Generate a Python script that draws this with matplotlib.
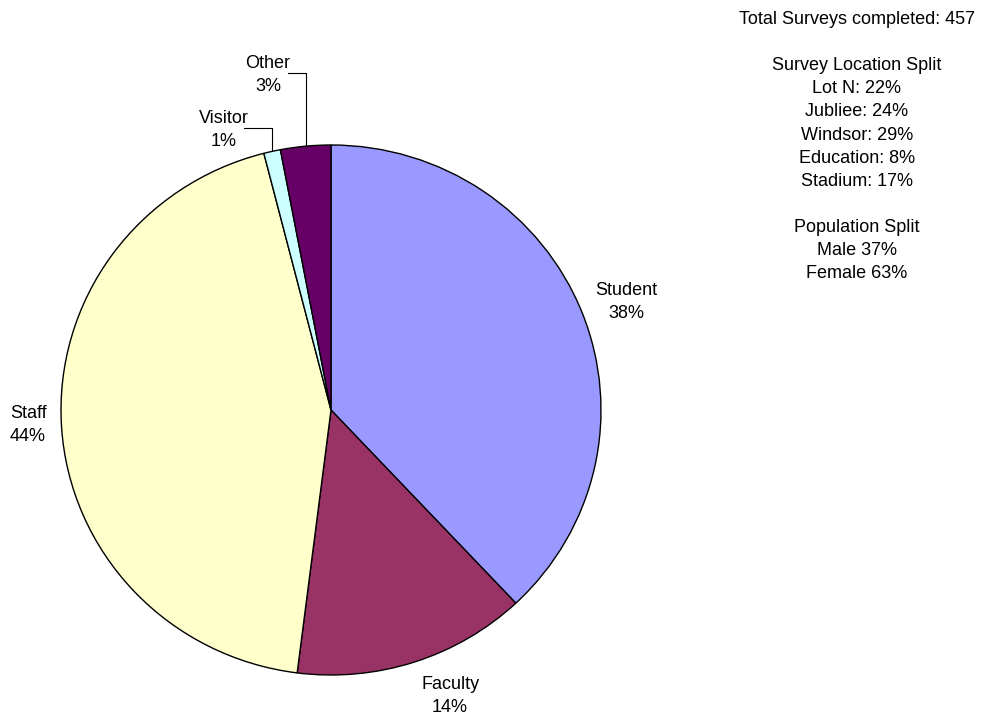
import matplotlib.pyplot as plt
import numpy as np

plt.rcParams['font.family'] = ['Liberation Sans', 'DejaVu Sans']

# Respondent categories and their share of the surveys (%)
categories = ['Student', 'Faculty', 'Staff', 'Visitor', 'Other']
shares = [38, 14, 44, 1, 3]
colors = ['#9999FF', '#993366', '#FFFFCC', '#CCFFFF', '#660066']

total_surveys = 457
locations = ['Lot N', 'Jubliee', 'Windsor', 'Education', 'Stadium']
location_shares = [22, 24, 29, 8, 17]
genders = ['Male', 'Female']
gender_shares = [37, 63]

W, H = 985, 719
fig = plt.figure(figsize=(W / 100, H / 100), dpi=100)
# pie bounding box in pixels: left, top, right, bottom
left, top, right, bottom = 61, 145, 601, 675
ax = fig.add_axes([left / W, (H - bottom) / H, (right - left) / W, (bottom - top) / H])

wedges, _ = ax.pie(shares, colors=colors, startangle=90, counterclock=False,
                   radius=1.0, wedgeprops=dict(edgecolor='black', linewidth=1))
ax.set_aspect('auto')
ax.set_xlim(-1, 1)
ax.set_ylim(-1, 1)

fs = 13
ls = 1.47
# label anchors (axes data units); small slices get an elbow leader line
label_pos = {'Student': (1.093, 0.408), 'Faculty': (0.441, -1.079),
             'Staff': (-1.122, -0.057), 'Visitor': (-0.396, 1.057),
             'Other': (-0.233, 1.264)}
callouts = ['Visitor', 'Other']

for w, name, v in zip(wedges, categories, shares):
    lx, ly = label_pos[name]
    ax.text(lx, ly, f'{name}\n{v}%', ha='center', va='center',
            fontsize=fs, linespacing=ls)
    if name in callouts:
        mid = np.deg2rad((w.theta1 + w.theta2) / 2)
        ex, ey = np.cos(mid), np.sin(mid)
        hx = lx + 0.075
        ax.plot([hx, ex, ex], [ly + 0.008, ly + 0.008, ey], color='black',
                linewidth=0.8, clip_on=False)

summary = [f'Total Surveys completed: {total_surveys}', '', 'Survey Location Split']
summary += [f'{n}: {s}%' for n, s in zip(locations, location_shares)]
summary += ['', 'Population Split']
summary += [f'{n} {s}%' for n, s in zip(genders, gender_shares)]
fig.text(857 / W, 1 - 11 / H, '\n'.join(summary), ha='center', va='top',
         fontsize=fs, linespacing=ls)

fig.savefig('out.png', dpi=100, facecolor='white')
